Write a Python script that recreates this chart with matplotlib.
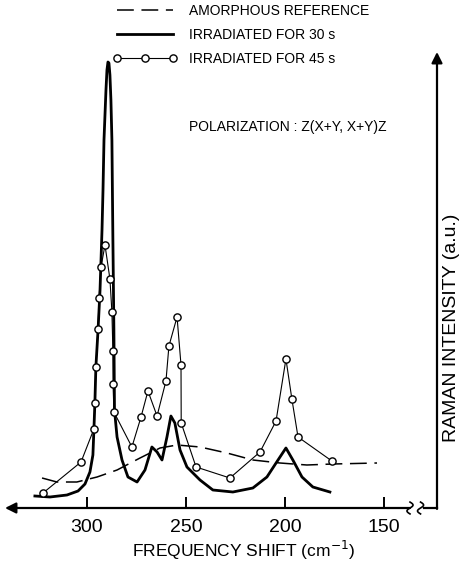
import numpy as np
import matplotlib
matplotlib.use('Agg')
import matplotlib.pyplot as plt
from matplotlib.lines import Line2D

plt.rcParams['font.family'] = ['Liberation Sans', 'DejaVu Sans']

# amorphous reference (dashed)
amor_freq = [322.7, 315.2, 305.1, 294.9, 284.8, 273.2, 263.1, 254.5, 242.9,
             229.3, 216.2, 202.5, 188.9, 175.8, 153.5]
amor_int = [7.5, 6.5, 6.5, 7.75, 9.5, 12.5, 15.0, 15.75, 15.25,
            13.75, 12.0, 11.25, 10.75, 11.0, 11.25]

# irradiated for 30 s (heavy line)
s30_freq = [326.3, 318.7, 310.1, 304.5, 301.0, 298.5, 297.0, 296.5, 296.0,
            295.5, 294.4, 293.4, 292.9, 292.4, 291.9, 291.4, 290.4, 289.9,
            289.4, 288.9, 288.4, 287.9, 287.4, 286.9, 286.4, 286.1, 284.8,
            282.3, 279.3, 274.7, 270.7, 267.2, 264.6, 262.1, 259.6, 257.6,
            255.6, 253.0, 249.5, 242.9, 236.4, 226.3, 216.2, 209.1, 203.5,
            199.5, 196.0, 191.4, 185.9, 177.3]
s30_int = [3.0, 2.75, 3.25, 4.25, 6.0, 9.0, 13.25, 19.5, 26.25,
           35.25, 44.5, 54.5, 62.0, 69.5, 79.5, 92.0, 104.5, 109.5,
           111.5, 111.25, 108.25, 102.0, 92.0, 67.0, 44.5, 24.5, 17.75,
           12.0, 7.75, 6.5, 9.5, 15.25, 14.0, 12.0, 17.75, 23.0,
           21.25, 14.5, 10.25, 7.0, 4.5, 4.0, 5.0, 7.75, 12.0,
           15.0, 12.0, 7.75, 5.25, 4.0]

# irradiated for 45 s (open circles)
s45_freq = [322.2, 303.0, 296.5, 296.0, 295.5, 294.4, 293.9, 292.9, 290.9,
            288.4, 287.4, 286.9, 286.8, 286.4, 277.3, 272.7, 269.2, 264.6,
            260.1, 258.6, 254.5, 252.5, 252.4, 244.9, 227.8, 212.6, 204.5,
            199.5, 196.5, 193.4, 176.3]
s45_int = [3.75, 11.5, 19.75, 26.25, 35.25, 44.75, 52.5, 60.25, 65.75,
           57.25, 49.0, 39.25, 31.0, 24.0, 15.25, 22.75, 29.25, 23.0,
           31.75, 40.5, 47.75, 35.75, 21.25, 10.25, 7.5, 14.0, 21.75,
           37.25, 27.25, 17.75, 11.75]

xticks = [300, 250, 200, 150]

W, H = 459, 563
fig = plt.figure(figsize=(W / 100, H / 100), dpi=100)
# axes: left edge = arrow tip, right edge = vertical axis, bottom = x axis
ax = fig.add_axes([5 / W, (H - 508) / H, 432 / W, 456 / H])
ax.set_xlim(341.4, 123.2)
ax.set_ylim(0, 114)

ax.plot(amor_freq, amor_int, color='black', lw=1.1, dashes=(11, 5))
ax.plot(s45_freq, s45_int, color='black', lw=0.8, marker='o', ms=5.2,
        mfc='white', mec='black', mew=1.0, zorder=4)
ax.plot(s30_freq, s30_int, color='black', lw=2.0, zorder=3,
        solid_joinstyle='round')

for s in ax.spines.values():
    s.set_visible(False)
ax.set_yticks([])
ax.set_xticks(xticks)
ax.set_xticklabels([str(t) for t in xticks], fontsize=14)
ax.tick_params(axis='x', direction='in', length=8, width=1.4, pad=8)

# x axis with arrow to the left
xe = (410 - 5) / 432
ax.annotate('', xy=(0, 0), xytext=(xe, 0), xycoords='axes fraction',
            arrowprops=dict(arrowstyle='-|>', lw=1.6, color='black',
                            mutation_scale=16, shrinkA=0, shrinkB=0))
# y axis with arrow upward
xs = (424 - 5) / 432
ax.plot([xs, 1], [0, 0], transform=ax.transAxes, color='black', lw=1.6,
        clip_on=False)
ax.annotate('', xy=(1, 1), xytext=(1, -0.002), xycoords='axes fraction',
            arrowprops=dict(arrowstyle='-|>', lw=1.6, color='black',
                            mutation_scale=16, shrinkA=0, shrinkB=0))

# axis break marks
t = np.linspace(-1, 1, 30)
for x0 in [xe, xs - 0.008]:
    ax.plot(x0 + 0.007 * np.sin(np.pi * t), 0.013 * t,
            transform=ax.transAxes, color='black', lw=1.2, clip_on=False)

ax.set_xlabel('FREQUENCY SHIFT (cm$^{-1}$)', fontsize=12.5)
ax.xaxis.set_label_coords((244 - 5) / 432, -42 / 456)
ax.xaxis.label.set_va('center')
ax.yaxis.set_label_position('right')
ax.set_ylabel('RAMAN INTENSITY (a.u.)', fontsize=14)
ax.yaxis.set_label_coords((451 - 5) / 432, (508 - 328) / 456)
ax.yaxis.label.set_va('center')

handles = [
    Line2D([], [], color='black', lw=1.1, dashes=(11, 5)),
    Line2D([], [], color='black', lw=2.0),
    Line2D([], [], color='black', lw=0.8, marker='o', ms=5.2, mfc='white',
           mec='black', mew=1.0),
]
labels = ['AMORPHOUS REFERENCE', 'IRRADIATED FOR 30 s', 'IRRADIATED FOR 45 s']
leg = ax.legend(handles, labels, loc='upper left',
                bbox_to_anchor=(113 / W, 1 - 4 / H), bbox_transform=fig.transFigure,
                frameon=False, fontsize=10, handlelength=4.6, handletextpad=0.85,
                labelspacing=0.72, borderpad=0, borderaxespad=0, numpoints=3)

fig.text(189 / W, 1 - 127 / H, 'POLARIZATION : Z(X+Y, X+Y)Z', fontsize=10,
         va='center', ha='left')

fig.savefig('out.png', dpi=100)
